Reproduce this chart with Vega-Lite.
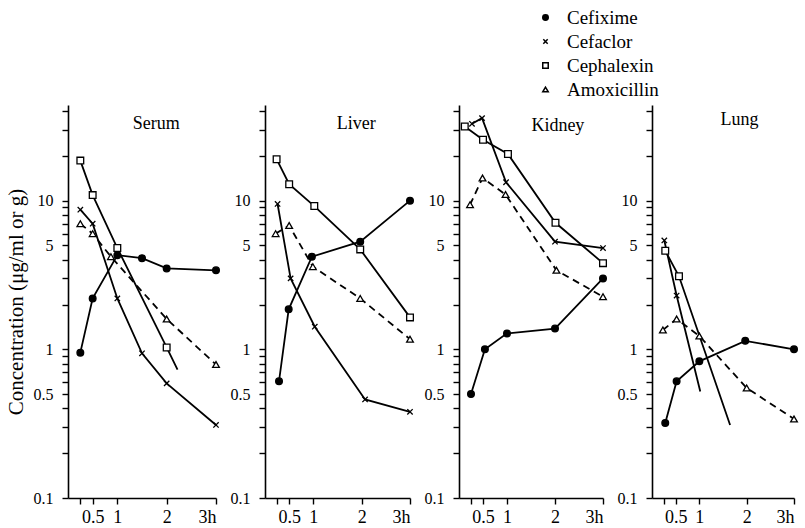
{
  "$schema": "https://vega.github.io/schema/vega-lite/v6.json",
  "background": "white",
  "padding": {"left": 5, "top": 8, "right": 3, "bottom": 0},
  "spacing": 49,
  "bounds": "flush",
  "config": {
    "view": {"stroke": null},
    "font": "Liberation Serif",
    "axis": {"domainColor": "black", "domainWidth": 1.6, "tickColor": "black", "tickWidth": 1.4, "tickSize": 6, "labelFont": "Liberation Serif", "labelFontSize": 16, "labelColor": "black", "grid": false, "titleFont": "Liberation Serif", "titleFontSize": 21, "titleFontWeight": "normal", "titleColor": "black", "labelOverlap": false, "tickCount": 60},
    "legend": {"labelFont": "Liberation Serif", "labelFontSize": 19, "labelColor": "black"}
  },
  "resolve": {"scale": {"shape": "shared", "fill": "shared"}},
  "datasets": {
    "conc": [
      {"organ": "Serum", "drug": "Cefixime", "t": 0.25, "c": 0.95},
      {"organ": "Serum", "drug": "Cefixime", "t": 0.5, "c": 2.2},
      {"organ": "Serum", "drug": "Cefixime", "t": 1, "c": 4.3},
      {"organ": "Serum", "drug": "Cefixime", "t": 1.5, "c": 4.1},
      {"organ": "Serum", "drug": "Cefixime", "t": 2, "c": 3.5},
      {"organ": "Serum", "drug": "Cefixime", "t": 3, "c": 3.4},
      {"organ": "Serum", "drug": "Cefaclor", "t": 0.25, "c": 8.7},
      {"organ": "Serum", "drug": "Cefaclor", "t": 0.5, "c": 7.0},
      {"organ": "Serum", "drug": "Cefaclor", "t": 1, "c": 2.2},
      {"organ": "Serum", "drug": "Cefaclor", "t": 1.5, "c": 0.94},
      {"organ": "Serum", "drug": "Cefaclor", "t": 2, "c": 0.59},
      {"organ": "Serum", "drug": "Cefaclor", "t": 3, "c": 0.31},
      {"organ": "Serum", "drug": "Cephalexin", "t": 0.25, "c": 18.6},
      {"organ": "Serum", "drug": "Cephalexin", "t": 0.5, "c": 10.9},
      {"organ": "Serum", "drug": "Cephalexin", "t": 1, "c": 4.8},
      {"organ": "Serum", "drug": "Cephalexin", "t": 2, "c": 1.03},
      {"organ": "Serum", "drug": "Cephalexin", "t": 2.22, "c": 0.73, "extrapolated": true},
      {"organ": "Serum", "drug": "Amoxicillin", "t": 0.25, "c": 7.0},
      {"organ": "Serum", "drug": "Amoxicillin", "t": 0.5, "c": 6.0},
      {"organ": "Serum", "drug": "Amoxicillin", "t": 0.87, "c": 4.2},
      {"organ": "Serum", "drug": "Amoxicillin", "t": 2, "c": 1.6},
      {"organ": "Serum", "drug": "Amoxicillin", "t": 3, "c": 0.79},

      {"organ": "Liver", "drug": "Cefixime", "t": 0.29, "c": 0.61},
      {"organ": "Liver", "drug": "Cefixime", "t": 0.49, "c": 1.86},
      {"organ": "Liver", "drug": "Cefixime", "t": 0.97, "c": 4.2},
      {"organ": "Liver", "drug": "Cefixime", "t": 1.97, "c": 5.3},
      {"organ": "Liver", "drug": "Cefixime", "t": 3, "c": 10},
      {"organ": "Liver", "drug": "Cefaclor", "t": 0.26, "c": 9.5},
      {"organ": "Liver", "drug": "Cefaclor", "t": 0.53, "c": 3.0},
      {"organ": "Liver", "drug": "Cefaclor", "t": 1.03, "c": 1.42},
      {"organ": "Liver", "drug": "Cefaclor", "t": 2.07, "c": 0.46},
      {"organ": "Liver", "drug": "Cefaclor", "t": 3, "c": 0.38},
      {"organ": "Liver", "drug": "Cephalexin", "t": 0.24, "c": 19},
      {"organ": "Liver", "drug": "Cephalexin", "t": 0.5, "c": 12.9},
      {"organ": "Liver", "drug": "Cephalexin", "t": 1.02, "c": 9.2},
      {"organ": "Liver", "drug": "Cephalexin", "t": 1.97, "c": 4.7},
      {"organ": "Liver", "drug": "Cephalexin", "t": 3, "c": 1.64},
      {"organ": "Liver", "drug": "Amoxicillin", "t": 0.22, "c": 6.0},
      {"organ": "Liver", "drug": "Amoxicillin", "t": 0.5, "c": 6.8},
      {"organ": "Liver", "drug": "Amoxicillin", "t": 0.99, "c": 3.6},
      {"organ": "Liver", "drug": "Amoxicillin", "t": 1.97, "c": 2.2},
      {"organ": "Liver", "drug": "Amoxicillin", "t": 3, "c": 1.17},

      {"organ": "Kidney", "drug": "Cefixime", "t": 0.25, "c": 0.5},
      {"organ": "Kidney", "drug": "Cefixime", "t": 0.54, "c": 1.0},
      {"organ": "Kidney", "drug": "Cefixime", "t": 1, "c": 1.28},
      {"organ": "Kidney", "drug": "Cefixime", "t": 2, "c": 1.38},
      {"organ": "Kidney", "drug": "Cefixime", "t": 3, "c": 3.0},
      {"organ": "Kidney", "drug": "Cefaclor", "t": 0.27, "c": 32.9},
      {"organ": "Kidney", "drug": "Cefaclor", "t": 0.48, "c": 35.9},
      {"organ": "Kidney", "drug": "Cefaclor", "t": 0.98, "c": 13.3},
      {"organ": "Kidney", "drug": "Cefaclor", "t": 2, "c": 5.3},
      {"organ": "Kidney", "drug": "Cefaclor", "t": 3, "c": 4.8},
      {"organ": "Kidney", "drug": "Cephalexin", "t": 0.12, "c": 31.5},
      {"organ": "Kidney", "drug": "Cephalexin", "t": 0.5, "c": 25.7},
      {"organ": "Kidney", "drug": "Cephalexin", "t": 1.02, "c": 20.6},
      {"organ": "Kidney", "drug": "Cephalexin", "t": 2.01, "c": 7.1},
      {"organ": "Kidney", "drug": "Cephalexin", "t": 3, "c": 3.8},
      {"organ": "Kidney", "drug": "Amoxicillin", "t": 0.23, "c": 9.4},
      {"organ": "Kidney", "drug": "Amoxicillin", "t": 0.49, "c": 14.2},
      {"organ": "Kidney", "drug": "Amoxicillin", "t": 0.97, "c": 11.0},
      {"organ": "Kidney", "drug": "Amoxicillin", "t": 2.03, "c": 3.4},
      {"organ": "Kidney", "drug": "Amoxicillin", "t": 3, "c": 2.26},

      {"organ": "Lung", "drug": "Cefixime", "t": 0.28, "c": 0.32},
      {"organ": "Lung", "drug": "Cefixime", "t": 0.52, "c": 0.61},
      {"organ": "Lung", "drug": "Cefixime", "t": 1, "c": 0.83},
      {"organ": "Lung", "drug": "Cefixime", "t": 1.97, "c": 1.14},
      {"organ": "Lung", "drug": "Cefixime", "t": 3, "c": 1.0},
      {"organ": "Lung", "drug": "Cefaclor", "t": 0.26, "c": 5.4},
      {"organ": "Lung", "drug": "Cefaclor", "t": 0.52, "c": 2.3},
      {"organ": "Lung", "drug": "Cefaclor", "t": 1.02, "c": 0.52, "extrapolated": true},
      {"organ": "Lung", "drug": "Cephalexin", "t": 0.28, "c": 4.6},
      {"organ": "Lung", "drug": "Cephalexin", "t": 0.57, "c": 3.1},
      {"organ": "Lung", "drug": "Cephalexin", "t": 1.65, "c": 0.31, "extrapolated": true},
      {"organ": "Lung", "drug": "Amoxicillin", "t": 0.23, "c": 1.35},
      {"organ": "Lung", "drug": "Amoxicillin", "t": 0.52, "c": 1.6},
      {"organ": "Lung", "drug": "Amoxicillin", "t": 1, "c": 1.23},
      {"organ": "Lung", "drug": "Amoxicillin", "t": 2, "c": 0.55},
      {"organ": "Lung", "drug": "Amoxicillin", "t": 3, "c": 0.34}
    ]
  },
  "hconcat": [
    {
      "width": 148, "height": 393,
      "layer": [
        {"data": {"name": "conc"}, "transform": [{"filter": "datum.organ === 'Serum' && datum.drug !== 'Amoxicillin'"}],
         "mark": {"type": "line", "color": "black", "strokeWidth": 1.8},
         "encoding": {
           "x": {"field": "t", "type": "quantitative", "scale": {"domain": [0, 3], "nice": false, "zero": false}, "axis": {"values": [0.25, 0.5, 1, 2, 3], "tickCount": 60, "labelExpr": "datum.value == 3 ? '3h' : datum.value == 0.5 ? '0.5' : datum.value == 1 ? '1' : datum.value == 2 ? '2' : ''", "title": null, "labelFontSize": 18, "labelPadding": 4, "labelOverlap": false}},
           "y": {"field": "c", "type": "quantitative", "scale": {"type": "log", "domain": [0.1, 44], "nice": false}, "axis": {"values": [0.1,0.2,0.3,0.4,0.5,0.6,0.7,0.8,0.9,1,2,3,4,5,6,7,8,9,10,20,30,40], "tickCount": 60, "labelExpr": "datum.value == 0.1 ? '0.1' : datum.value == 0.5 ? '0.5' : datum.value == 1 ? '1' : datum.value == 5 ? '5' : datum.value == 10 ? '10' : ''", "labelPadding": 9, "labelOverlap": false, "title": "Concentration (μg/ml or g)", "titlePadding": 7}},
           "detail": {"field": "drug"}
         }},
        {"data": {"name": "conc"}, "transform": [{"filter": "datum.organ === 'Serum' && datum.drug === 'Amoxicillin'"}],
         "mark": {"type": "line", "color": "black", "strokeWidth": 1.8, "strokeDash": [7, 5]},
         "encoding": {"x": {"field": "t", "type": "quantitative"}, "y": {"field": "c", "type": "quantitative"}}},
        {"data": {"name": "conc"}, "transform": [{"filter": "datum.organ === 'Serum' && !datum.extrapolated"}],
         "mark": {"type": "point", "stroke": "black", "strokeWidth": 1.3, "opacity": 1, "size": 45},
         "encoding": {
           "x": {"field": "t", "type": "quantitative"},
           "y": {"field": "c", "type": "quantitative"},
           "shape": {"field": "drug", "type": "nominal", "scale": {"domain": ["Cefixime", "Cefaclor", "Cephalexin", "Amoxicillin"], "range": ["circle", "M-0.8,-0.8L0.8,0.8M-0.8,0.8L0.8,-0.8", "square", "triangle-up"]}, "legend": {"title": null, "orient": "none", "legendX": 468, "legendY": -97, "symbolSize": 30, "labelOffset": 12, "rowPadding": 4, "encode": {"symbols": {"update": {"stroke": {"value": "black"}, "strokeWidth": {"value": 1.7}, "opacity": {"value": 1}}}}}},
           "fill": {"field": "drug", "type": "nominal", "scale": {"domain": ["Cefixime", "Cefaclor", "Cephalexin", "Amoxicillin"], "range": ["black", "white", "white", "white"]}, "legend": {"title": null, "orient": "none", "legendX": 468, "legendY": -97, "symbolSize": 30, "labelOffset": 12, "rowPadding": 4, "encode": {"symbols": {"update": {"stroke": {"value": "black"}, "strokeWidth": {"value": 1.7}, "opacity": {"value": 1}}}}}}
         }},
        {"data": {"values": [{}]}, "mark": {"type": "text", "text": "Serum", "font": "Liberation Serif", "fontSize": 18, "color": "black"},
         "encoding": {"x": {"datum": 1.79}, "y": {"datum": 33}}}
      ]
    },
    {
      "width": 145, "height": 393,
      "layer": [
        {"data": {"name": "conc"}, "transform": [{"filter": "datum.organ === 'Liver' && datum.drug !== 'Amoxicillin'"}],
         "mark": {"type": "line", "color": "black", "strokeWidth": 1.8},
         "encoding": {
           "x": {"field": "t", "type": "quantitative", "scale": {"domain": [0, 3], "nice": false, "zero": false}, "axis": {"values": [0.25, 0.5, 1, 2, 3], "tickCount": 60, "labelExpr": "datum.value == 3 ? '3h' : datum.value == 0.5 ? '0.5' : datum.value == 1 ? '1' : datum.value == 2 ? '2' : ''", "title": null, "labelFontSize": 18, "labelPadding": 4, "labelOverlap": false}},
           "y": {"field": "c", "type": "quantitative", "scale": {"type": "log", "domain": [0.1, 44], "nice": false}, "axis": {"values": [0.1,0.2,0.3,0.4,0.5,0.6,0.7,0.8,0.9,1,2,3,4,5,6,7,8,9,10,20,30,40], "tickCount": 60, "labelExpr": "datum.value == 0.1 ? '0.1' : datum.value == 0.5 ? '0.5' : datum.value == 1 ? '1' : datum.value == 5 ? '5' : datum.value == 10 ? '10' : ''", "labelPadding": 9, "labelOverlap": false, "title": null}},
           "detail": {"field": "drug"}
         }},
        {"data": {"name": "conc"}, "transform": [{"filter": "datum.organ === 'Liver' && datum.drug === 'Amoxicillin'"}],
         "mark": {"type": "line", "color": "black", "strokeWidth": 1.8, "strokeDash": [7, 5]},
         "encoding": {"x": {"field": "t", "type": "quantitative"}, "y": {"field": "c", "type": "quantitative"}}},
        {"data": {"name": "conc"}, "transform": [{"filter": "datum.organ === 'Liver' && !datum.extrapolated"}],
         "mark": {"type": "point", "stroke": "black", "strokeWidth": 1.3, "opacity": 1, "size": 45},
         "encoding": {
           "x": {"field": "t", "type": "quantitative"},
           "y": {"field": "c", "type": "quantitative"},
           "shape": {"field": "drug", "type": "nominal"},
           "fill": {"field": "drug", "type": "nominal"}
         }},
        {"data": {"values": [{}]}, "mark": {"type": "text", "text": "Liver", "font": "Liberation Serif", "fontSize": 18, "color": "black"},
         "encoding": {"x": {"datum": 1.89}, "y": {"datum": 33}}}
      ]
    },
    {
      "width": 144, "height": 393,
      "layer": [
        {"data": {"name": "conc"}, "transform": [{"filter": "datum.organ === 'Kidney' && datum.drug !== 'Amoxicillin'"}],
         "mark": {"type": "line", "color": "black", "strokeWidth": 1.8},
         "encoding": {
           "x": {"field": "t", "type": "quantitative", "scale": {"domain": [0, 3], "nice": false, "zero": false}, "axis": {"values": [0.25, 0.5, 1, 2, 3], "tickCount": 60, "labelExpr": "datum.value == 3 ? '3h' : datum.value == 0.5 ? '0.5' : datum.value == 1 ? '1' : datum.value == 2 ? '2' : ''", "title": null, "labelFontSize": 18, "labelPadding": 4, "labelOverlap": false}},
           "y": {"field": "c", "type": "quantitative", "scale": {"type": "log", "domain": [0.1, 44], "nice": false}, "axis": {"values": [0.1,0.2,0.3,0.4,0.5,0.6,0.7,0.8,0.9,1,2,3,4,5,6,7,8,9,10,20,30,40], "tickCount": 60, "labelExpr": "datum.value == 0.1 ? '0.1' : datum.value == 0.5 ? '0.5' : datum.value == 1 ? '1' : datum.value == 5 ? '5' : datum.value == 10 ? '10' : ''", "labelPadding": 9, "labelOverlap": false, "title": null}},
           "detail": {"field": "drug"}
         }},
        {"data": {"name": "conc"}, "transform": [{"filter": "datum.organ === 'Kidney' && datum.drug === 'Amoxicillin'"}],
         "mark": {"type": "line", "color": "black", "strokeWidth": 1.8, "strokeDash": [7, 5]},
         "encoding": {"x": {"field": "t", "type": "quantitative"}, "y": {"field": "c", "type": "quantitative"}}},
        {"data": {"name": "conc"}, "transform": [{"filter": "datum.organ === 'Kidney' && !datum.extrapolated"}],
         "mark": {"type": "point", "stroke": "black", "strokeWidth": 1.3, "opacity": 1, "size": 45},
         "encoding": {
           "x": {"field": "t", "type": "quantitative"},
           "y": {"field": "c", "type": "quantitative"},
           "shape": {"field": "drug", "type": "nominal"},
           "fill": {"field": "drug", "type": "nominal"}
         }},
        {"data": {"values": [{}]}, "mark": {"type": "text", "text": "Kidney", "font": "Liberation Serif", "fontSize": 18, "color": "black"},
         "encoding": {"x": {"datum": 2.06}, "y": {"datum": 32}}}
      ]
    },
    {
      "width": 142, "height": 393,
      "layer": [
        {"data": {"name": "conc"}, "transform": [{"filter": "datum.organ === 'Lung' && datum.drug !== 'Amoxicillin'"}],
         "mark": {"type": "line", "color": "black", "strokeWidth": 1.8},
         "encoding": {
           "x": {"field": "t", "type": "quantitative", "scale": {"domain": [0, 3], "nice": false, "zero": false}, "axis": {"values": [0.25, 0.5, 1, 2, 3], "tickCount": 60, "labelExpr": "datum.value == 3 ? '3h' : datum.value == 0.5 ? '0.5' : datum.value == 1 ? '1' : datum.value == 2 ? '2' : ''", "title": null, "labelFontSize": 18, "labelPadding": 4, "labelOverlap": false}},
           "y": {"field": "c", "type": "quantitative", "scale": {"type": "log", "domain": [0.1, 44], "nice": false}, "axis": {"values": [0.1,0.2,0.3,0.4,0.5,0.6,0.7,0.8,0.9,1,2,3,4,5,6,7,8,9,10,20,30,40], "tickCount": 60, "labelExpr": "datum.value == 0.1 ? '0.1' : datum.value == 0.5 ? '0.5' : datum.value == 1 ? '1' : datum.value == 5 ? '5' : datum.value == 10 ? '10' : ''", "labelPadding": 9, "labelOverlap": false, "title": null}},
           "detail": {"field": "drug"}
         }},
        {"data": {"name": "conc"}, "transform": [{"filter": "datum.organ === 'Lung' && datum.drug === 'Amoxicillin'"}],
         "mark": {"type": "line", "color": "black", "strokeWidth": 1.8, "strokeDash": [7, 5]},
         "encoding": {"x": {"field": "t", "type": "quantitative"}, "y": {"field": "c", "type": "quantitative"}}},
        {"data": {"name": "conc"}, "transform": [{"filter": "datum.organ === 'Lung' && !datum.extrapolated"}],
         "mark": {"type": "point", "stroke": "black", "strokeWidth": 1.3, "opacity": 1, "size": 45},
         "encoding": {
           "x": {"field": "t", "type": "quantitative"},
           "y": {"field": "c", "type": "quantitative"},
           "shape": {"field": "drug", "type": "nominal"},
           "fill": {"field": "drug", "type": "nominal"}
         }},
        {"data": {"values": [{}]}, "mark": {"type": "text", "text": "Lung", "font": "Liberation Serif", "fontSize": 18, "color": "black"},
         "encoding": {"x": {"datum": 1.85}, "y": {"datum": 35}}}
      ]
    }
  ]
}
